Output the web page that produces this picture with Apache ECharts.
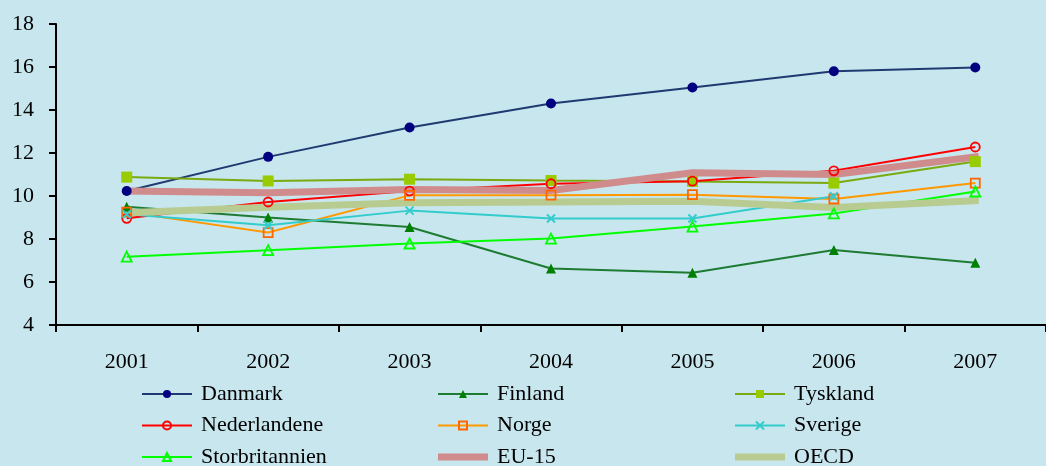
<!DOCTYPE html>
<html><head><meta charset="utf-8">
<script src="https://cdn.jsdelivr.net/npm/echarts@6/dist/echarts.min.js"></script>
<style>html,body{margin:0;padding:0;background:#C8E6EE;}#c{width:1046px;height:466px;}</style>
</head><body><div id="c"></div>
<script>
const years = ['2001','2002','2003','2004','2005','2006','2007'];
const danmark = [10.23, 11.82, 13.19, 14.3, 15.05, 15.8, 15.98];
const finland = [9.5, 9.0, 8.56, 6.63, 6.43, 7.49, 6.9];
const tyskland = [10.88, 10.7, 10.78, 10.72, 10.68, 10.6, 11.6];
const nederlandene = [8.96, 9.72, 10.23, 10.57, 10.69, 11.17, 12.28];
const norge = [9.25, 8.3, 10.03, 10.04, 10.06, 9.86, 10.6];
const sverige = [9.15, 8.64, 9.32, 8.95, 8.95, 9.99, null];
const storbritannien = [7.18, 7.48, 7.79, 8.02, 8.58, 9.19, 10.21];
const eu15 = [10.23, 10.15, 10.3, 10.26, 11.08, 11.0, 11.82];
const oecd = [9.22, 9.48, 9.69, 9.72, 9.76, 9.46, 9.78];

const FONT = '"Liberation Serif", "Times New Roman", serif';
function s(name, data, lineColor, symbol, markFill, markBorder, size, width) {
  return {
    name, type: 'line', data,
    lineStyle: { color: lineColor, width: width || 2 },
    symbol: symbol, symbolSize: size || 9,
    itemStyle: { color: markFill || lineColor, borderColor: markBorder || markFill || lineColor, borderWidth: markBorder ? 1.8 : 0 },
    emphasis: { disabled: true }, animation: false
  };
}
const xPath = 'path://M0,0L10,10M10,0L0,10';
const series = [
  s('Danmark', danmark, '#1F3A70', 'circle', '#000080', null, 10),
  s('Finland', finland, '#1E7B32', 'triangle', '#008000', null, 10),
  s('Tyskland', tyskland, '#7AAA10', 'rect', '#99CC00', null, 11),
  s('Nederlandene', nederlandene, '#FF0000', 'circle', 'rgba(0,0,0,0)', '#FF0000', 9),
  s('Norge', norge, '#FF9900', 'rect', 'rgba(0,0,0,0)', '#FF6600', 9),
  s('Sverige', sverige, '#33CCCC', xPath, 'rgba(0,0,0,0)', '#33CCCC', 8),
  s('Storbritannien', storbritannien, '#00FF00', 'triangle', 'rgba(0,0,0,0)', '#00FF00', 10),
  s('EU-15', eu15, '#D08C8C', 'none', '#D08C8C', null, 1, 7),
  s('OECD', oecd, '#B8CC92', 'none', '#B8CC92', null, 1, 7)
];
series[5].itemStyle.borderWidth = 2;
series[7].lineStyle.cap = 'square';
series[8].lineStyle.cap = 'square';

const barIcon = 'path://M0,0H50V7H0Z';
function legend(left, names) {
  return {
    left, top: 383, height: 120, orient: 'vertical', padding: 0,
    itemWidth: 50, itemHeight: 10, itemGap: 9.5, selectedMode: false,
    data: names.map(n => (n === 'EU-15' || n === 'OECD') ? { name: n, icon: barIcon } : n),
    textStyle: { fontFamily: FONT, fontSize: 22, lineHeight: 22, color: '#000', padding: [0, 0, 0, 4] }
  };
}
const chart = echarts.init(document.getElementById('c'), null, { renderer: 'canvas' });
chart.setOption({
  backgroundColor: '#C8E6EE',
  animation: false,
  grid: { left: 56, top: 24, bottom: 141, right: -5 },
  legend: [
    legend(141, ['Danmark', 'Nederlandene', 'Storbritannien']),
    legend(437, ['Finland', 'Norge', 'EU-15']),
    legend(734, ['Tyskland', 'Sverige', 'OECD'])
  ],
  xAxis: {
    type: 'category', data: years, boundaryGap: true,
    axisLine: { lineStyle: { color: '#000', width: 2 } },
    axisTick: { show: true, length: 7, lineStyle: { color: '#000', width: 2 } },
    axisLabel: { fontFamily: FONT, fontSize: 22, color: '#000', margin: 26 }
  },
  yAxis: {
    type: 'value', min: 4, max: 18, interval: 2,
    axisLine: { show: true, lineStyle: { color: '#000', width: 2 } },
    axisTick: { show: true, length: 7, lineStyle: { color: '#000', width: 2 } },
    splitLine: { show: false },
    axisLabel: { fontFamily: FONT, fontSize: 22, color: '#000', margin: 22 }
  },
  series
});
</script></body></html>
